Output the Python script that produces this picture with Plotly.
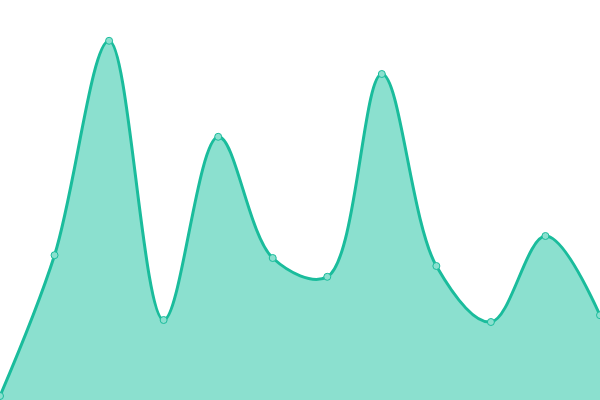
import plotly.graph_objects as go

# x positions are just the index of each point
x_vals = list(range(12))
y_vals = [1, 36.2, 89.8, 20, 65.8, 35.5, 30.8, 81.5, 33.5, 19.5, 41, 21.2]

line_color = "#1abc9c"
fill_color = "#8be0cf"

fig = go.Figure()
fig.add_trace(go.Scatter(
    x=x_vals,
    y=y_vals,
    mode="lines+markers",
    line=dict(color=line_color, width=3, shape="spline", smoothing=1),
    marker=dict(size=7, color=fill_color, line=dict(color=line_color, width=1)),
    fill="tozeroy",
    fillcolor=fill_color,
    hoverinfo="skip",
    cliponaxis=False,
))

fig.update_layout(
    width=600,
    height=400,
    margin=dict(l=0, r=0, t=0, b=0),
    paper_bgcolor="white",
    plot_bgcolor="white",
    showlegend=False,
)
fig.update_xaxes(visible=False, range=[0, 11])
fig.update_yaxes(visible=False, range=[0, 100])

# drop the browser's default body margin so the chart sits at 0,0
fig.write_html("out.html",
               config={"displayModeBar": False},
               post_script="document.body.style.margin='0';document.body.style.overflow='hidden';")
